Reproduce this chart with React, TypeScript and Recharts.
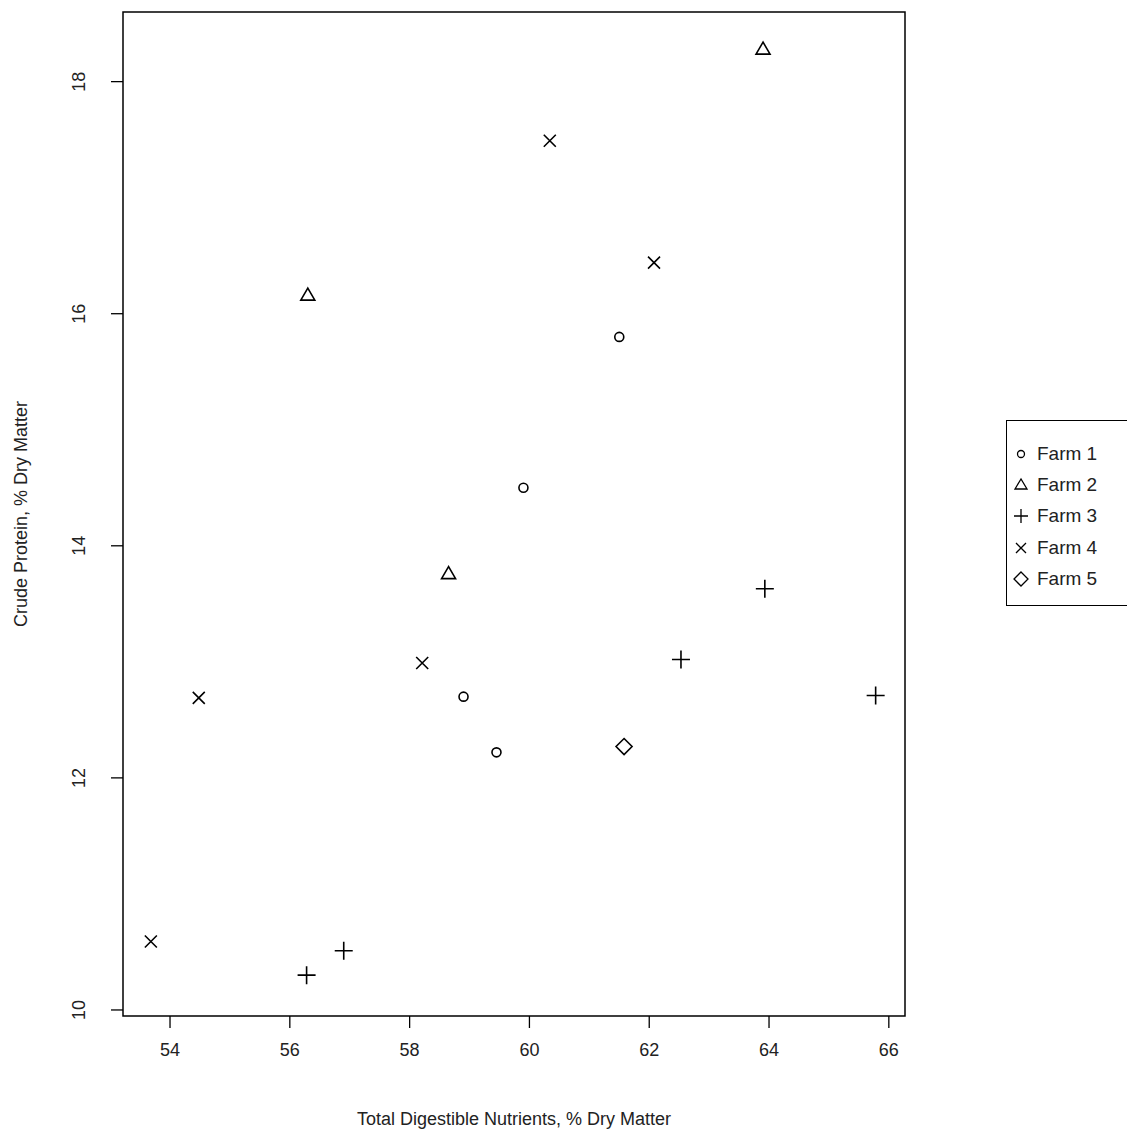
import { ScatterChart, Scatter, XAxis, YAxis, ReferenceArea } from 'recharts';

// Data
const farm1 = [
  { tdn: 61.5, cp: 15.8 },
  { tdn: 59.9, cp: 14.5 },
  { tdn: 58.9, cp: 12.7 },
  { tdn: 59.45, cp: 12.22 },
];
const farm2 = [
  { tdn: 56.3, cp: 16.16 },
  { tdn: 58.65, cp: 13.76 },
  { tdn: 63.9, cp: 18.28 },
];
const farm3 = [
  { tdn: 56.28, cp: 10.3 },
  { tdn: 56.9, cp: 10.51 },
  { tdn: 62.53, cp: 13.02 },
  { tdn: 63.93, cp: 13.63 },
  { tdn: 65.78, cp: 12.71 },
];
const farm4 = [
  { tdn: 53.68, cp: 10.59 },
  { tdn: 54.48, cp: 12.69 },
  { tdn: 58.21, cp: 12.99 },
  { tdn: 60.34, cp: 17.49 },
  { tdn: 62.08, cp: 16.44 },
];
const farm5 = [{ tdn: 61.58, cp: 12.27 }];

const xTicks = [54, 56, 58, 60, 62, 64, 66];
const yTicks = [10, 12, 14, 16, 18];

const FONT = 'Arial, "Liberation Sans", sans-serif';
const SW = 1.6;

const Circle = ({ cx, cy }: any) => <circle cx={cx} cy={cy} r={4.5} fill="none" stroke="#000" strokeWidth={SW} />;
const Triangle = ({ cx, cy }: any) => (
  <polygon points={`${cx},${cy - 7} ${cx - 7},${cy + 5} ${cx + 7},${cy + 5}`} fill="none" stroke="#000" strokeWidth={SW} />
);
const Plus = ({ cx, cy }: any) => (
  <path d={`M${cx - 9},${cy}H${cx + 9}M${cx},${cy - 9}V${cy + 9}`} stroke="#000" strokeWidth={SW} />
);
const Cross = ({ cx, cy }: any) => (
  <path d={`M${cx - 6},${cy - 6}L${cx + 6},${cy + 6}M${cx - 6},${cy + 6}L${cx + 6},${cy - 6}`} stroke="#000" strokeWidth={SW} />
);
const Diamond = ({ cx, cy }: any) => (
  <polygon points={`${cx},${cy - 8} ${cx + 8},${cy} ${cx},${cy + 8} ${cx - 8},${cy}`} fill="none" stroke="#000" strokeWidth={SW} />
);

const YTick = ({ x, y, payload }: any) => (
  <text x={x - 24} y={y} transform={`rotate(-90 ${x - 24} ${y})`} textAnchor="middle" fontSize={18} fontFamily={FONT} fill="#222">
    {payload.value}
  </text>
);
const XTick = ({ x, y, payload }: any) => (
  <text x={x} y={y + 26} textAnchor="middle" fontSize={18} fontFamily={FONT} fill="#222">
    {payload.value}
  </text>
);

const legendItems = [
  { label: 'Farm 1', mark: <circle cx={10} cy={10} r={3.5} fill="none" stroke="#000" strokeWidth={1.3} /> },
  { label: 'Farm 2', mark: <polygon points="10,4 4,14 16,14" fill="none" stroke="#000" strokeWidth={1.3} /> },
  { label: 'Farm 3', mark: <path d="M3,10H17M10,3V17" stroke="#000" strokeWidth={1.3} /> },
  { label: 'Farm 4', mark: <path d="M5,5L15,15M5,15L15,5" stroke="#000" strokeWidth={1.3} /> },
  { label: 'Farm 5', mark: <polygon points="10,3 17,10 10,17 3,10" fill="none" stroke="#000" strokeWidth={1.3} /> },
];

export default function App() {
  return (
    <div style={{ position: 'absolute', left: 0, top: 0, width: 1127, height: 1135, background: '#fff', overflow: 'hidden' }}>
      <ScatterChart width={1127} height={1135} margin={{ top: 12, right: 222, bottom: 59, left: 63 }}>
        <XAxis
          type="number"
          dataKey="tdn"
          domain={[53.215, 66.27]}
          ticks={xTicks}
          height={60}
          axisLine={false}
          tickSize={12}
          tickLine={{ stroke: '#000', strokeWidth: 1.3 }}
          tick={<XTick />}
          allowDataOverflow
        />
        <YAxis
          type="number"
          dataKey="cp"
          domain={[9.948, 18.6]}
          ticks={yTicks}
          width={60}
          axisLine={false}
          tickSize={12}
          tickLine={{ stroke: '#000', strokeWidth: 1.3 }}
          tick={<YTick />}
          allowDataOverflow
        />
        <ReferenceArea x1={53.215} x2={66.27} y1={9.948} y2={18.6} fill="none" stroke="#000" strokeWidth={1.5} strokeOpacity={1} />
        <Scatter data={farm1} shape={<Circle />} isAnimationActive={false} />
        <Scatter data={farm2} shape={<Triangle />} isAnimationActive={false} />
        <Scatter data={farm3} shape={<Plus />} isAnimationActive={false} />
        <Scatter data={farm4} shape={<Cross />} isAnimationActive={false} />
        <Scatter data={farm5} shape={<Diamond />} isAnimationActive={false} />
      </ScatterChart>
      <div style={{ position: 'absolute', left: 0, top: 1109, width: 1028, textAlign: 'center', fontFamily: FONT, fontSize: 18, color: '#222' }}>
        Total Digestible Nutrients, % Dry Matter
      </div>
      <div
        style={{
          position: 'absolute', left: 21, top: 514, transform: 'translate(-50%, -50%) rotate(-90deg)',
          whiteSpace: 'nowrap', fontFamily: FONT, fontSize: 18, color: '#222',
        }}
      >
        Crude Protein, % Dry Matter
      </div>
      <div
        style={{
          position: 'absolute', left: 1006, top: 420, width: 130, height: 186, boxSizing: 'border-box',
          border: '1.5px solid #000', padding: '17px 0 0 4px', fontFamily: FONT, fontSize: 19, color: '#222',
        }}
      >
        {legendItems.map((it) => (
          <div key={it.label} style={{ display: 'flex', alignItems: 'center', height: 31.3 }}>
            <svg width={20} height={20} style={{ marginRight: 6 }}>{it.mark}</svg>
            {it.label}
          </div>
        ))}
      </div>
    </div>
  );
}
